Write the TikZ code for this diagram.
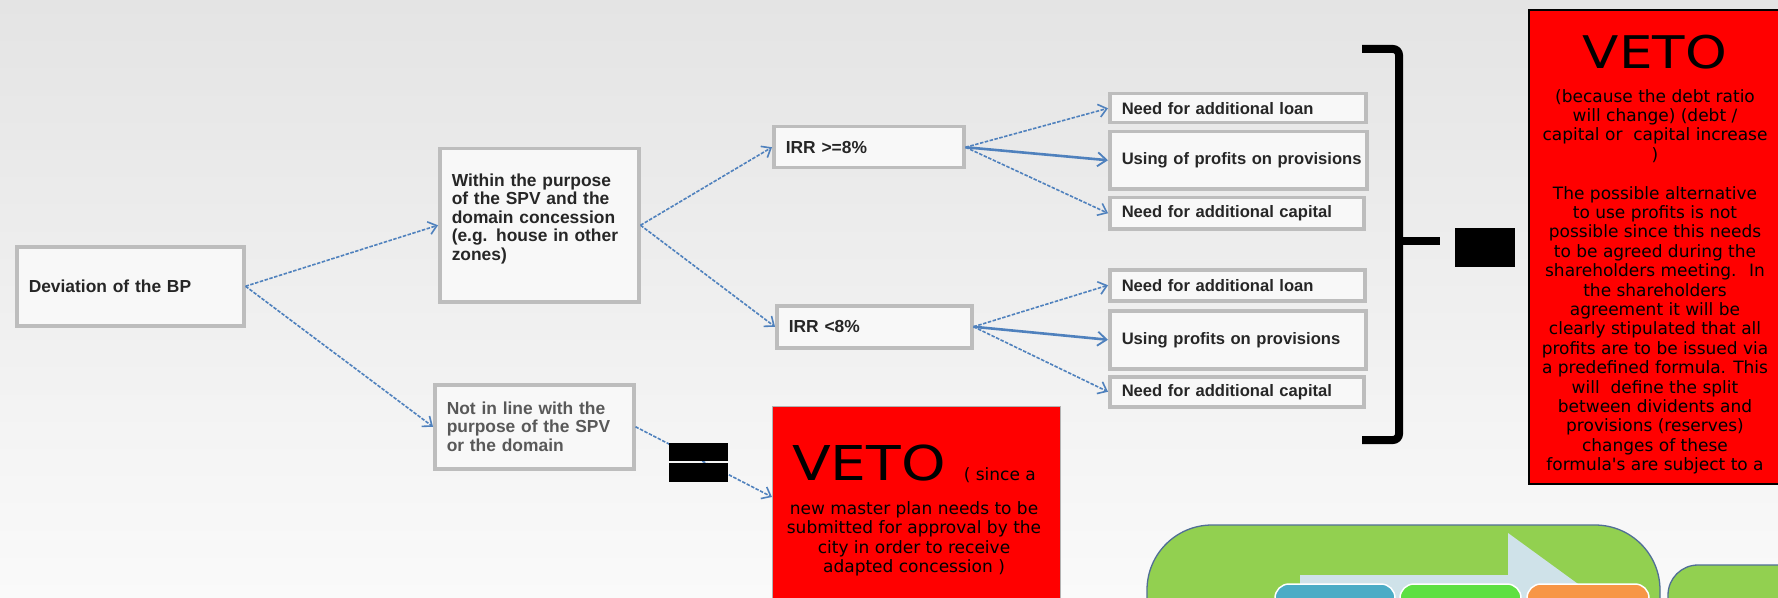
\documentclass[tikz,border=0pt]{standalone}
\usepackage{fontspec}
\setmainfont{Liberation Sans}
\newfontfamily\vfont{DejaVu Sans}
\newfontfamily\vetofont[FakeStretch=1.18]{DejaVu Sans}
\usetikzlibrary{arrows.meta}
\definecolor{bgtop}{RGB}{228,228,228}
\definecolor{bgbot}{RGB}{250,250,250}
\definecolor{boxline}{RGB}{189,189,189}
\definecolor{boxfill}{RGB}{248,248,248}
\definecolor{arr}{RGB}{79,129,189}
\definecolor{vetored}{RGB}{255,0,0}
\definecolor{lgreen}{RGB}{146,208,80}
\definecolor{gedge}{RGB}{80,110,150}
\definecolor{lblue}{RGB}{207,226,233}
\definecolor{sblue}{RGB}{75,172,198}
\definecolor{sgreen}{RGB}{94,224,66}
\definecolor{sorange}{RGB}{247,150,70}
\tikzset{
  bx/.style={draw=boxline, line width=3.5bp, fill=boxfill, anchor=north west,
    inner xsep=12bp, inner ysep=0pt, align=left,
    font=\bfseries\fontsize{17.4bp}{18.5bp}\selectfont, text=black!85},
  rbx/.style={bx, font=\bfseries\fontsize{16.6bp}{18bp}\selectfont},
  con/.style={draw=arr, line width=1.6bp, dash pattern=on 3.5bp off 1.5bp,
    -{Straight Barb[length=8bp,width=13bp,line width=1.6bp]}},
  confull/.style={draw=arr, line width=2.6bp,
    -{Straight Barb[length=9bp,width=14bp,line width=1.8bp]}},
  blk/.style={fill=black, anchor=north west, inner sep=0pt},
  redbox/.style={fill=vetored, anchor=north west, inner sep=0pt},
  vtext/.style={anchor=north, inner sep=0pt, align=center, text=black,
    font=\vfont\fontsize{17bp}{19.4bp}\selectfont},
  smallbox/.style={rounded corners=14bp, draw=white, line width=1.5bp},
  bigshape/.style={draw=gedge, line width=1.3bp, fill=lgreen},
}
\begin{document}
\begin{tikzpicture}[x=1bp,y=-1bp]
\useasboundingbox (0,0) rectangle (1778,598);
\clip (0,0) rectangle (1778,598);
\shade[top color=bgtop, bottom color=bgbot] (0,0) rectangle (1778,598);

% boxes
\node[bx, text width=203bp, minimum width=227bp, minimum height=79bp] (dev) at (15,245) {Deviation of the BP};
\node[bx, text width=175bp, minimum width=199bp, minimum height=153bp] (within) at (438,147)
  {Within the purpose\\ of the SPV and the\\ domain concession\\ (e.g. house in other\\ zones)\\[-2bp]\mbox{}};
\node[bx, text width=175bp, minimum width=199bp, minimum height=84bp, text=black!65] (notin) at (433,383)
  {Not in line with the\\ purpose of the SPV\\ or the domain};
\node[bx, text width=166bp, minimum width=190bp, minimum height=41bp] (irr1) at (772,125) {IRR >=8\%};
\node[bx, text width=171bp, minimum width=195bp, minimum height=42bp] (irr2) at (775,304) {IRR <8\%};

\node[rbx, text width=232bp, minimum width=256bp, minimum height=29bp] (b1) at (1108,92) {\mbox{Need for additional loan}};
\node[rbx, text width=233bp, minimum width=257bp, minimum height=57bp] (b2) at (1108,130) {\mbox{Using of profits on provisions}};
\node[rbx, text width=230bp, minimum width=254bp, minimum height=31bp] (b3) at (1108,196) {\mbox{Need for additional capital}};
\node[rbx, text width=231bp, minimum width=255bp, minimum height=31bp] (b4) at (1108,268) {\mbox{Need for additional loan}};
\node[rbx, text width=232bp, minimum width=256bp, minimum height=58bp] (b5) at (1108,309) {\mbox{Using profits on provisions}};
\node[rbx, text width=230bp, minimum width=254bp, minimum height=30bp] (b6) at (1108,375) {\mbox{Need for additional capital}};

% red boxes
\node[redbox, draw=gray!60, line width=1bp, minimum width=288bp, minimum height=240bp] (veto1) at (772,406) {};
\node[vtext] (veto1t) at (914,445)
  {{\vetofont\fontsize{48bp}{48bp}\selectfont VETO}\hspace{18bp}( since  a\\[14bp]
   new  master plan needs to be\\ submitted for approval by the\\ city in order to receive\\ adapted concession  )};
\node[redbox, draw=black, line width=2bp, minimum width=262bp, minimum height=474bp] (veto2) at (1528,9) {};
\node[vtext] (veto2t) at (1655,35)
  {{\vetofont\fontsize{45bp}{45bp}\selectfont VETO}\\[14bp]
   (because the debt ratio\\ will change) (debt /\\ capital or \ capital increase\\ )\\[19.4bp]
   The possible alternative\\ to use profits is not\\ possible since this needs\\ to be agreed during the\\
   shareholders meeting. \ In\\ the shareholders\\ agreement it will be\\ clearly stipulated that all\\
   profits are to be issued via\\ a predefined formula. This\\ will \ define the split\\
   between dividents and\\ provisions (reserves)\\ changes of these\\ formula's are subject to a};

% connectors
\draw[con] (dev.east) -- (within.west);
\draw[con] (dev.east) -- (notin.west);
\draw[con] (within.east) -- (irr1.west);
\draw[con] (within.east) -- (irr2.west);
\draw[con] (irr1.east) -- (b1.west);
\draw[confull] (irr1.east) -- (b2.west);
\draw[con] (irr1.east) -- (b3.west);
\draw[con] (irr2.east) -- (b4.west);
\draw[confull] (irr2.east) -- (b5.west);
\draw[con] (irr2.east) -- (b6.west);
\draw[con] (notin.east) -- ([yshift=-91bp]veto1.north west);

% black marks
\node[blk, minimum width=59bp, minimum height=18bp] (eqa) at (669,443) {};
\node[blk, minimum width=59bp, minimum height=19bp] (eqb) at (669,463) {};
\node[blk, minimum width=60bp, minimum height=39bp] (bigblk) at (1455,228) {};

% bracket
\draw[line width=8bp, rounded corners=6bp] (1362,49) -- (1399,49) -- (1399,440) -- (1362,440);
\draw[line width=7.5bp] (1399,241) -- (1440,241);

% bottom-right partial graphic
\draw[bigshape, rounded corners=65bp] (1147,700) -- (1147,525) -- (1660,525) -- (1660,700);
\fill[lblue] (1300,640) -- (1300,575) -- (1508,575) -- (1508,533) -- (1655,640) -- cycle;
\draw[smallbox, fill=sblue] (1275,584) rectangle (1395,660);
\draw[smallbox, fill=sgreen] (1400,584) rectangle (1521,660);
\draw[smallbox, fill=sorange] (1527,584) rectangle (1649,660);
\draw[bigshape, rounded corners=30bp] (1668,660) -- (1668,565) -- (1820,565) -- (1820,660);
\end{tikzpicture}
\end{document}
